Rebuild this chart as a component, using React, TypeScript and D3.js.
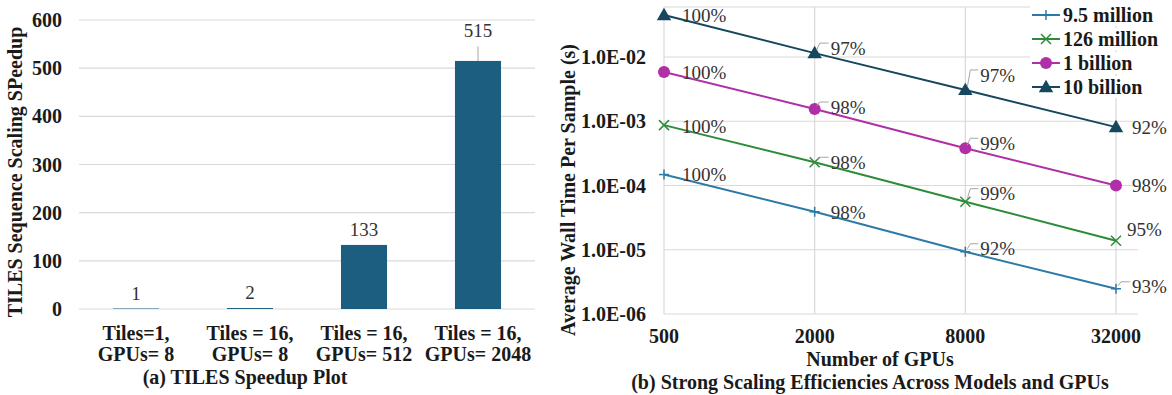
import React from "react";
import * as d3 from "d3";

// ---------- Data: (a) TILES speedup ----------
const tileCatsLine1 = ["Tiles=1,", "Tiles = 16,", "Tiles = 16,", "Tiles = 16,"];
const tileCatsLine2 = ["GPUs= 8", "GPUs= 8", "GPUs= 512", "GPUs= 2048"];
const speedup = [1, 2, 133, 515];
const speedupErr = [0, 0, 0, 30];
const speedupTicks = [0, 100, 200, 300, 400, 500, 600];

// ---------- Data: (b) strong scaling ----------
const gpus = [500, 2000, 8000, 32000];
const seriesNames = ["9.5 million", "126 million", "1 billion", "10 billion"];
const time95m = [1.48e-4, 3.9e-5, 9.3e-6, 2.47e-6];
const time126m = [8.7e-4, 2.3e-4, 5.6e-5, 1.38e-5];
const time1b = [5.85e-3, 1.55e-3, 3.8e-4, 1.0e-4];
const time10b = [4.5e-2, 1.15e-2, 3.07e-3, 8.1e-4];
const eff95m = ["100%", "98%", "92%", "93%"];
const eff126m = ["100%", "98%", "99%", "95%"];
const eff1b = ["100%", "98%", "99%", "98%"];
const eff10b = ["100%", "97%", "97%", "92%"];
const yTicksB = [1e-6, 1e-5, 1e-4, 1e-3, 1e-2];
const yTickLabelsB = ["1.0E-06", "1.0E-05", "1.0E-04", "1.0E-03", "1.0E-02"];

// ---------- Styles ----------
const FONT = "'Liberation Serif', 'Times New Roman', serif";
const GRID = "#d9d9d9";
const BAR = "#1b5e80";
const TXT = "#1a1a1a";
const BOLD = 20;
const LBL = 19;
const colors = ["#2e7aa6", "#2e8b3a", "#b02fa6", "#15475f"];
const markers = ["plus", "x", "circle", "triangle"];
// label offsets [dx to text start, dy of text center], leader flag
const labelOffsets = [
  [[18, 0, 0], [16, 1, 0], [15, -3, 1], [16, -2, 1]],
  [[18, 1, 0], [16, 0, 1], [15, -8, 1], [11, -11, 0]],
  [[18, 0, 0], [16, -2, 1], [15, -5, 1], [16, 0, 0]],
  [[18, 0, 0], [16, -5, 1], [15, -15, 1], [16, 0, 0]],
];

function Marker({ type, x, y, color }: { type: string; x: number; y: number; color: string }) {
  if (type === "plus")
    return (
      <g stroke={color} strokeWidth={1.5}>
        <line x1={x - 5} x2={x + 5} y1={y} y2={y} />
        <line x1={x} x2={x} y1={y - 5} y2={y + 5} />
      </g>
    );
  if (type === "x")
    return (
      <g stroke={color} strokeWidth={1.5}>
        <line x1={x - 5} x2={x + 5} y1={y - 5} y2={y + 5} />
        <line x1={x - 5} x2={x + 5} y1={y + 5} y2={y - 5} />
      </g>
    );
  if (type === "circle") return <circle cx={x} cy={y} r={6} fill={color} />;
  const sym = d3.symbol().type(d3.symbolTriangle).size(90)();
  return <path d={sym || ""} transform={`translate(${x},${y + 1})`} fill={color} />;
}

function ChartA() {
  const y = d3.scaleLinear().domain([0, 600]).range([309, 20]);
  const x = d3.scaleBand<number>().domain(d3.range(speedup.length)).range([79, 535]).paddingInner(0.596).paddingOuter(0.298);
  return (
    <g fontFamily={FONT}>
      {speedupTicks.map((t) => (
        <g key={t}>
          <line x1={79} x2={535} y1={y(t)} y2={y(t)} stroke={GRID} strokeWidth={1.2} />
          <text x={62} y={y(t)} dy="0.35em" textAnchor="end" fontWeight="bold" fontSize={BOLD} fill={TXT}>
            {t}
          </text>
        </g>
      ))}
      {speedup.map((v, i) => {
        const bx = x(i)!;
        const bw = x.bandwidth();
        const cx = bx + bw / 2;
        const topVal = v + speedupErr[i];
        return (
          <g key={i}>
            <rect x={bx} y={y(v)} width={bw} height={y(0) - y(v)} fill={BAR} />
            {speedupErr[i] > 0 && <line x1={cx} x2={cx} y1={y(v)} y2={y(topVal)} stroke="#a6a6a6" strokeWidth={1} />}
            <text x={cx} y={y(topVal) - 9} textAnchor="middle" fontSize={LBL} fill="#333">
              {v}
            </text>
            <text x={cx} y={340} textAnchor="middle" fontWeight="bold" fontSize={BOLD} fill={TXT}>
              {tileCatsLine1[i]}
            </text>
            <text x={cx} y={361} textAnchor="middle" fontWeight="bold" fontSize={BOLD} fill={TXT}>
              {tileCatsLine2[i]}
            </text>
          </g>
        );
      })}
      <text transform={`translate(22,172) rotate(-90)`} textAnchor="middle" fontWeight="bold" fontSize={BOLD} fill={TXT}>
        TILES Sequence Scaling SPeedup
      </text>
      <text x={245} y={384} textAnchor="middle" fontWeight="bold" fontSize={BOLD} fill={TXT}>
        (a) TILES Speedup Plot
      </text>
    </g>
  );
}

function ChartB() {
  const x = d3.scaleLog().base(2).domain([500, 32000]).range([664, 1116]);
  const y = d3.scaleLog().domain([1e-6, 1e-2]).range([314, 57]);
  const top = 7;
  const right = 1138;
  const allSeries = [time95m, time126m, time1b, time10b];
  const allEff = [eff95m, eff126m, eff1b, eff10b];
  const line = d3
    .line<[number, number]>()
    .x((d) => x(d[0]))
    .y((d) => y(d[1]));
  return (
    <g fontFamily={FONT}>
      <line x1={664} x2={right} y1={top} y2={top} stroke={GRID} strokeWidth={1.2} />
      {yTicksB.map((t, i) => (
        <g key={t}>
          <line x1={664} x2={right} y1={y(t)} y2={y(t)} stroke={GRID} strokeWidth={1.2} />
          <text x={646} y={y(t)} dy="0.35em" textAnchor="end" fontWeight="bold" fontSize={BOLD} fill={TXT}>
            {yTickLabelsB[i]}
          </text>
        </g>
      ))}
      {gpus.map((g) => (
        <g key={g}>
          <line x1={x(g)} x2={x(g)} y1={top} y2={y(1e-6)} stroke={GRID} strokeWidth={1.2} />
          <text x={x(g)} y={343} textAnchor="middle" fontWeight="bold" fontSize={BOLD} fill={TXT}>
            {g}
          </text>
        </g>
      ))}
      {allSeries.map((vals, si) => {
        const pts = gpus.map((g, i) => [g, vals[i]] as [number, number]);
        return (
          <g key={si}>
            <path d={line(pts) || ""} fill="none" stroke={colors[si]} strokeWidth={2} />
            {pts.map((p, i) => (
              <Marker key={i} type={markers[si]} x={x(p[0])} y={y(p[1])} color={colors[si]} />
            ))}
            {pts.map((p, i) => {
              const px = x(p[0]);
              const py = y(p[1]);
              const [dx, dy, leader] = labelOffsets[si][i];
              return (
                <g key={"l" + i}>
                  {leader ? (
                    <polyline
                      points={`${px + 2},${py - 3} ${px + 5},${py + dy - 5} ${px + dx - 2},${py + dy - 5}`}
                      fill="none"
                      stroke="#a6a6a6"
                      strokeWidth={1}
                    />
                  ) : null}
                  <text x={px + dx} y={py + dy} dy="0.35em" fontSize={LBL} fill="#333">
                    {allEff[si][i]}
                  </text>
                </g>
              );
            })}
          </g>
        );
      })}
      {seriesNames.map((n, i) => {
        const ly = 15 + i * 24;
        return (
          <g key={n}>
            <rect x={1030} y={ly - 11} width={130} height={22} fill="white" />
            <line x1={1032} x2={1060} y1={ly} y2={ly} stroke={colors[i]} strokeWidth={2} />
            <Marker type={markers[i]} x={1046} y={ly} color={colors[i]} />
            <text x={1063} y={ly} dy="0.35em" fontWeight="bold" fontSize={BOLD} fill={TXT}>
              {n}
            </text>
          </g>
        );
      })}
      <text transform={`translate(575,190) rotate(-90)`} textAnchor="middle" fontWeight="bold" fontSize={BOLD} fill={TXT}>
        Average Wall Time Per Sample (s)
      </text>
      <text x={880} y={366} textAnchor="middle" fontWeight="bold" fontSize={BOLD} fill={TXT}>
        Number of GPUs
      </text>
      <text x={870} y={389} textAnchor="middle" fontWeight="bold" fontSize={BOLD} fill={TXT}>
        (b) Strong Scaling Efficiencies Across Models and GPUs
      </text>
    </g>
  );
}

export default function App() {
  return (
    <>
      <style>{`body{margin:0;background:#fff}`}</style>
      <svg width={1172} height={395} style={{ display: "block", background: "#fff" }}>
        <ChartA />
        <ChartB />
      </svg>
    </>
  );
}
